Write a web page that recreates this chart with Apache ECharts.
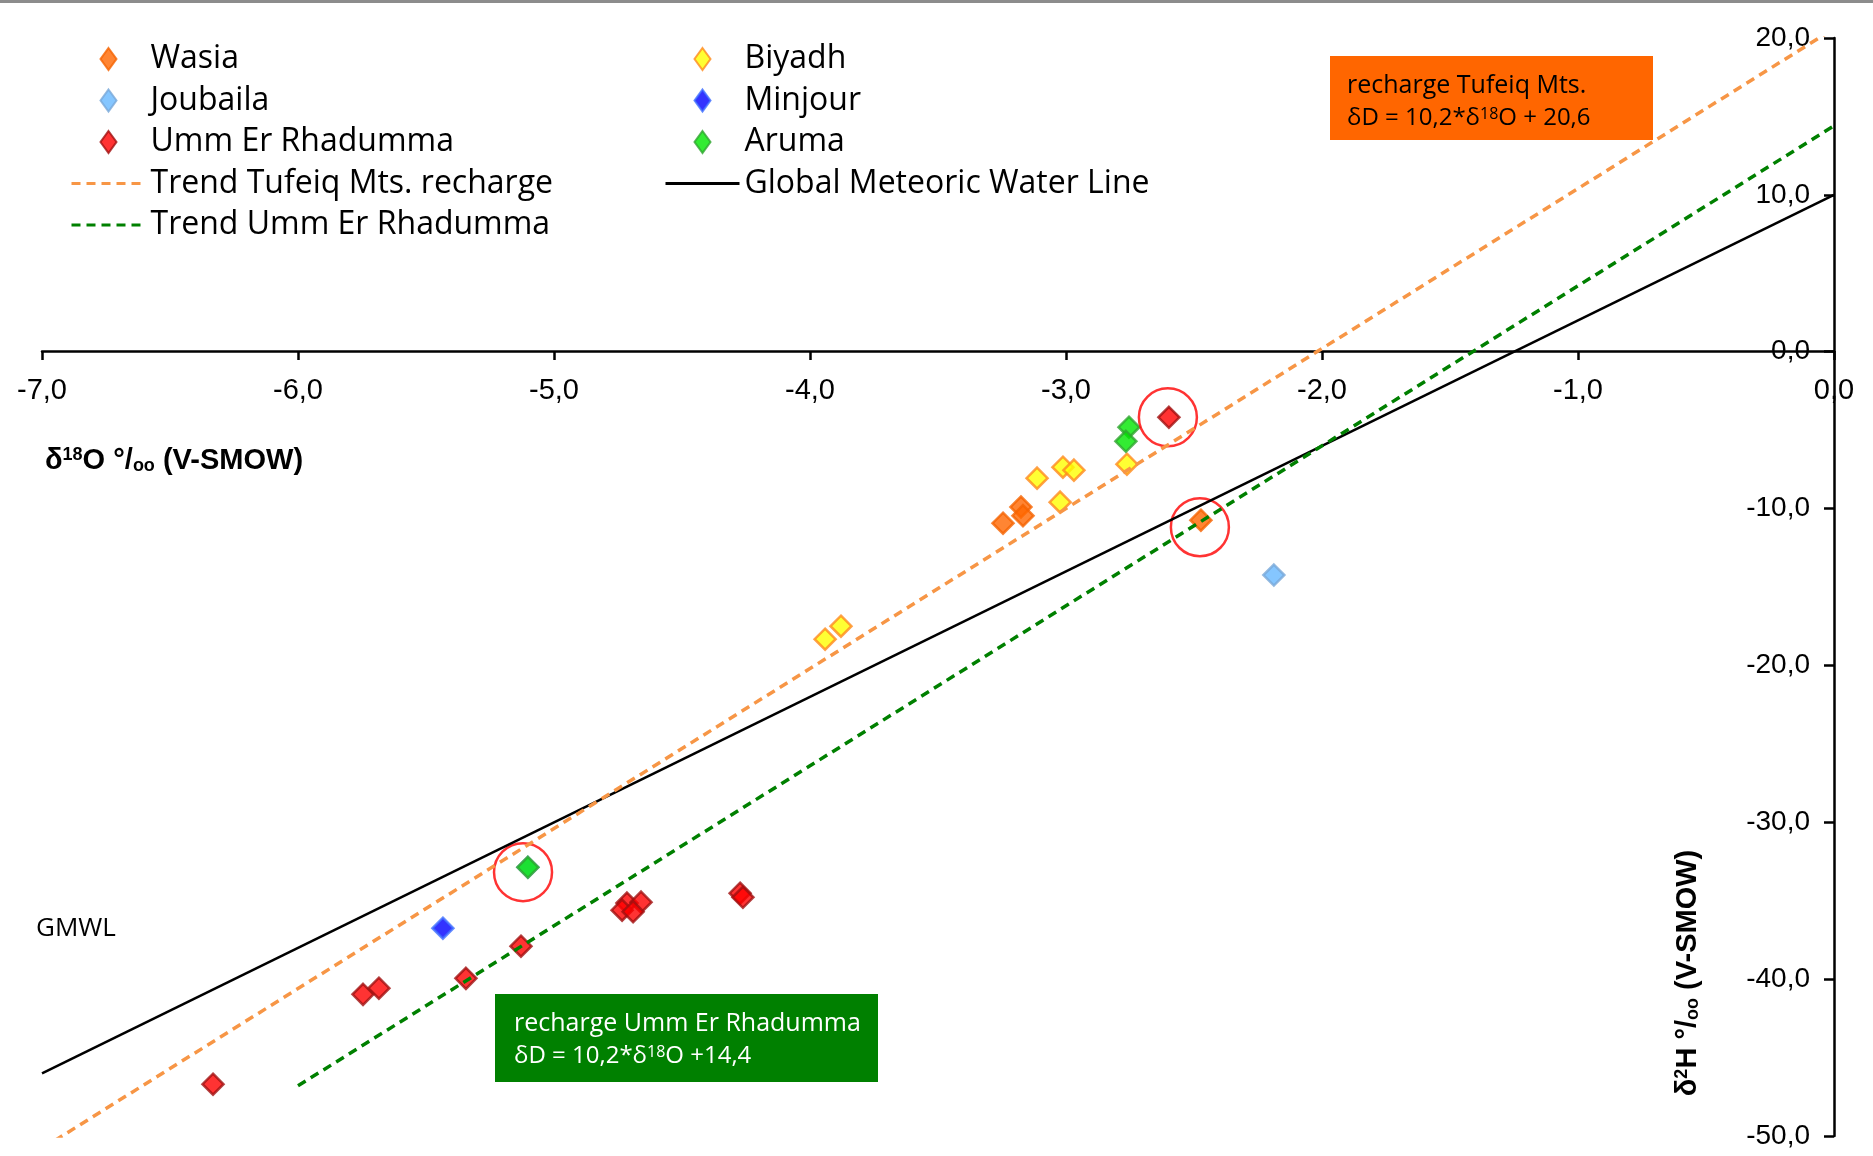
<!DOCTYPE html>
<html>
<head>
<meta charset="utf-8">
<title>δ18O / δ2H</title>
<script src="https://cdn.jsdelivr.net/npm/echarts@6.0.0/dist/echarts.min.js"></script>
<style>
  html, body { margin: 0; padding: 0; background: #fff; }
  #isotopeChart { width: 1873px; height: 1156px; }
</style>
</head>
<body>
<div id="isotopeChart"></div>
<script>
  // [δ18O, δ2H] per sample
  const wasia = [[-3.246, -10.93], [-3.176, -9.9], [-3.168, -10.45], [-2.473, -10.74]]
  const biyadh = [[-3.941, -18.33], [-3.879, -17.5], [-3.113, -8.06], [-3.023, -9.59],
    [-3.012, -7.36], [-2.969, -7.55], [-2.762, -7.17]]
  const joubaila = [[-2.188, -14.24], [-5.102, -32.87]]
  const minjour = [[-5.434, -36.75]]
  const ummErRhadumma = [[-2.598, -4.18], [-6.332, -46.7], [-5.746, -40.97], [-5.684, -40.58],
    [-5.344, -39.95], [-5.129, -37.9], [-4.715, -35.15], [-4.66, -35.09], [-4.734, -35.6],
    [-4.691, -35.7], [-4.273, -34.52], [-4.262, -34.78]]
  const aruma = [[-2.754, -4.81], [-2.766, -5.71], [-5.102, -32.87]]

  // lines: end points (clipped by the grid)
  const trendTufeiq = [[-7, -50.8], [0, 20.6]]      // δD = 10,2*δ18O + 20,6
  const trendUmm = [[-6, -46.8], [0, 14.4]]         // δD = 10,2*δ18O + 14,4
  const gmwl = [[-7, -46], [0, 10]]                 // δD = 8*δ18O + 10

  // circled samples
  const highlighted = [[-2.602, -4.18], [-2.477, -11.19], [-5.121, -33.18]]

  const xTicks = { min: -7, max: 0, step: 1 }
  const yTicks = { min: -50, max: 20, step: 10 }

  const comma = v => v.toFixed(1).replace('.', ',')

  function diamonds(name, data, fill, border) {
    return {
      name: name,
      type: 'scatter',
      symbol: 'diamond',
      symbolSize: 21,
      data: data,
      itemStyle: { color: fill, borderColor: border, borderWidth: 2.5 }
    }
  }

  // legend icons are stretched to itemWidth x itemHeight, so the diamond path
  // carries two empty end points to keep its own shape inside the 74px box
  const diamondIcon = 'path://M0,11L0,11M37,0L45,11L37,22L29,11ZM74,11L74,11'
  const pointItem = name => ({ name: name, icon: diamondIcon })
  // line entries: hide the dot ECharts puts in the middle
  const lineItem = name => ({ name: name, itemStyle: { opacity: 0 }, lineStyle: { width: 3 } })

  const legendText = { fontFamily: 'Open Sans', fontSize: 32, lineHeight: 32, color: '#000' }

  let chart = echarts.init(document.getElementById('isotopeChart'))
  chart.setOption({
    animation: false,
    backgroundColor: '#fff',
    grid: { left: 42, right: 39, top: 38, bottom: 20, containLabel: false, outerBoundsMode: 'none' },
    legend: [{
      orient: 'vertical',
      left: 70,
      top: 43,
      padding: 0,
      itemWidth: 74,
      itemHeight: 22,
      itemGap: 9.5,
      textStyle: legendText,
      data: [pointItem('Wasia'), pointItem('Joubaila'), pointItem('Umm Er Rhadumma'),
        lineItem('Trend Tufeiq Mts. recharge'), lineItem('Trend Umm Er Rhadumma')]
    }, {
      orient: 'vertical',
      left: 664,
      top: 43,
      padding: 0,
      itemWidth: 74,
      itemHeight: 22,
      itemGap: 9.5,
      textStyle: legendText,
      data: [pointItem('Biyadh'), pointItem('Minjour'), pointItem('Aruma'),
        lineItem('Global Meteoric Water Line')]
    }],
    xAxis: {
      type: 'value',
      position: 'bottom',
      offset: -785,   // sits on δ2H = 0
      min: xTicks.min,
      max: xTicks.max,
      interval: xTicks.step,
      splitLine: { show: false },
      axisLine: { onZero: false, lineStyle: { color: '#000', width: 2.5 } },
      axisTick: { length: 9, lineStyle: { color: '#000', width: 2.5 } },
      axisLabel: {
        formatter: comma, color: '#000', fontFamily: 'Liberation Sans', fontSize: 29,
        margin: 25, showMinLabel: true, showMaxLabel: true
      }
    },
    yAxis: {
      type: 'value',
      position: 'right',
      min: yTicks.min,
      max: yTicks.max,
      interval: yTicks.step,
      splitLine: { show: false },
      axisLine: { onZero: false, lineStyle: { color: '#000', width: 2.5 } },
      axisTick: { inside: true, length: 10, lineStyle: { color: '#000', width: 2.5 } },
      axisLabel: {
        inside: true, formatter: comma, color: '#000', fontFamily: 'Liberation Sans', fontSize: 28,
        margin: 24, showMinLabel: true, showMaxLabel: true
      }
    },
    series: [
      {
        name: 'Global Meteoric Water Line', type: 'line', data: gmwl, symbol: 'none',
        lineStyle: { color: '#000', width: 2.5 }, itemStyle: { color: '#000' }
      },
      {
        name: 'Trend Tufeiq Mts. recharge', type: 'line', data: trendTufeiq, symbol: 'none',
        lineStyle: { color: '#F79646', width: 3.5, type: [9, 6] }, itemStyle: { color: '#F79646' }
      },
      {
        name: 'Trend Umm Er Rhadumma', type: 'line', data: trendUmm, symbol: 'none',
        lineStyle: { color: '#008000', width: 3.5, type: [9, 6] }, itemStyle: { color: '#008000' }
      },
      diamonds('Wasia', wasia, '#FF6600', '#F56300'),
      diamonds('Biyadh', biyadh, '#FFFF00', '#FF8A1E'),
      diamonds('Joubaila', joubaila, '#66B8FF', '#78A8D8'),
      diamonds('Minjour', minjour, '#0000FF', '#4070FF'),
      diamonds('Umm Er Rhadumma', ummErRhadumma, '#FF0000', '#A01010'),
      diamonds('Aruma', aruma, '#00E600', '#2FA52F'),
      {
        type: 'scatter', data: highlighted, symbol: 'circle', symbolSize: 58, silent: true,
        itemStyle: { color: 'rgba(0,0,0,0)', borderColor: '#FF0000', borderWidth: 2.5 }
      }
    ],
    graphic: [
      { type: 'rect', left: 0, top: 0, shape: { width: 1873, height: 3 }, style: { fill: '#8c8c8c' } },
      // recharge Tufeiq box
      { type: 'rect', x: 1330, y: 56, shape: { width: 323, height: 84 }, style: { fill: '#FF6600' } },
      {
        type: 'text', x: 1347, y: 86,
        style: { text: 'recharge Tufeiq Mts.', fontFamily: 'Open Sans', fontSize: 25, fill: '#000', verticalAlign: 'middle' }
      },
      {
        type: 'text', x: 1347, y: 118,
        style: {
          text: 'δD = 10,2*δ{sup|18}O + 20,6', fontFamily: 'Open Sans', fontSize: 24, fill: '#000', verticalAlign: 'middle',
          rich: { sup: { fontFamily: 'Open Sans', fontSize: 16, verticalAlign: 'top', fill: '#000' } }
        }
      },
      // recharge Umm Er Rhadumma box
      { type: 'rect', x: 495, y: 994, shape: { width: 383, height: 88 }, style: { fill: '#008000' } },
      {
        type: 'text', x: 514, y: 1024,
        style: { text: 'recharge Umm Er Rhadumma', fontFamily: 'Open Sans', fontSize: 25, fill: '#fff', verticalAlign: 'middle' }
      },
      {
        type: 'text', x: 514, y: 1056,
        style: {
          text: 'δD = 10,2*δ{sup|18}O +14,4', fontFamily: 'Open Sans', fontSize: 24, fill: '#fff', verticalAlign: 'middle',
          rich: { sup: { fontFamily: 'Open Sans', fontSize: 16, verticalAlign: 'top', fill: '#fff' } }
        }
      },
      {
        type: 'text', x: 36, y: 929,
        style: { text: 'GMWL', fontFamily: 'Open Sans', fontSize: 26, fill: '#000', verticalAlign: 'middle' }
      },
      // axis titles
      {
        type: 'text', x: 45, y: 461,
        style: {
          text: 'δ{sup|18}O °/{sub|oo} (V-SMOW)', fontFamily: 'Liberation Sans', fontWeight: 'bold', fontSize: 29,
          fill: '#000', verticalAlign: 'middle',
          rich: {
            sup: { fontFamily: 'Liberation Sans', fontWeight: 'bold', fontSize: 18, verticalAlign: 'top', fill: '#000' },
            sub: { fontFamily: 'Liberation Sans', fontWeight: 'bold', fontSize: 18, verticalAlign: 'bottom', fill: '#000' }
          }
        }
      },
      {
        type: 'text', x: 1688, y: 973, rotation: Math.PI / 2,
        style: {
          text: 'δ{sup|2}H °/{sub|oo} (V-SMOW)', fontFamily: 'Liberation Sans', fontWeight: 'bold', fontSize: 29,
          fill: '#000', align: 'center', verticalAlign: 'middle',
          rich: {
            sup: { fontFamily: 'Liberation Sans', fontWeight: 'bold', fontSize: 18, verticalAlign: 'top', fill: '#000' },
            sub: { fontFamily: 'Liberation Sans', fontWeight: 'bold', fontSize: 18, verticalAlign: 'bottom', fill: '#000' }
          }
        }
      }
    ]
  })
</script>
</body>
</html>
